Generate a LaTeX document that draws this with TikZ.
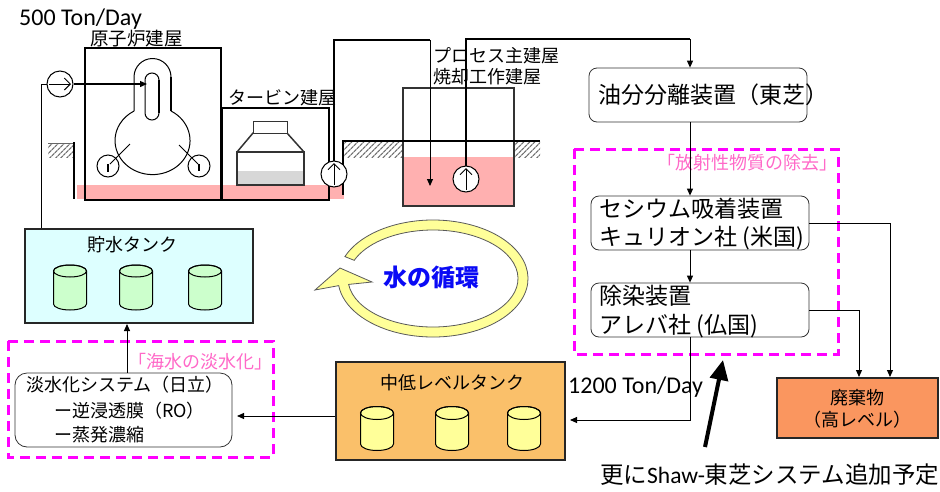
\documentclass[tikz,border=0pt]{standalone}
\usepackage{fontspec}
\setmainfont{Carlito}
\newfontfamily\jp{Noto Sans CJK JP}
\usetikzlibrary{arrows.meta,patterns.meta,calc}

\definecolor{floorpink}{RGB}{255,176,176}
\definecolor{storefill}{RGB}{221,255,255}
\definecolor{greencyl}{RGB}{204,255,204}
\definecolor{midfill}{RGB}{250,192,106}
\definecolor{yellowcyl}{RGB}{255,255,153}
\definecolor{wastefill}{RGB}{250,150,95}
\definecolor{zonemag}{RGB}{255,0,255}
\definecolor{zonelabel}{RGB}{255,105,200}
\definecolor{loopfill}{RGB}{255,255,153}
\definecolor{loopblue}{RGB}{10,10,245}
\definecolor{tankgrey}{RGB}{215,215,215}

% drum: x, top ellipse centre y, bottom ellipse centre y, x radius, y radius, fill
\newcommand\drum[6]{%
  \filldraw[fill=#6, draw=black, line width=1pt]
    ({#1-#4},#2) -- ({#1-#4},#3)
    arc[start angle=180, end angle=0, x radius=#4, y radius=#5]
    -- ({#1+#4},#2)
    arc[start angle=0, end angle=-180, x radius=#4, y radius=#5] -- cycle;
  \draw[line width=1pt] (#1,#2) ellipse[x radius=#4, y radius=#5];}

\begin{document}
\begin{tikzpicture}[x=1pt,y=-1pt,
  wall/.style={draw=black, line width=2pt},
  arr/.style={-{Triangle[length=7pt,width=6pt]}},
  pump/.style={circle, draw=black, line width=1pt, fill=white, minimum size=26pt, inner sep=0pt},
  procbox/.style={draw=black!80, line width=0.8pt, rounded corners=8pt, fill=white,
                  minimum width=218pt, minimum height=54pt, inner sep=0pt},
  tankbox/.style={draw=black!85, line width=2pt, inner sep=0pt},
  jpS/.style={font=\jp\fontsize{18}{18}\selectfont, inner sep=0pt},
  jpL/.style={font=\jp\fontsize{23}{23}\selectfont, inner sep=0pt, anchor=west},
  zonetext/.style={font=\jp\fontsize{18}{18}\selectfont, inner sep=0pt, text=zonelabel},
  zone/.style={draw=zonemag, line width=3pt, dash pattern=on 10pt off 6pt},
  hatch/.style={pattern={Lines[angle=45,distance=4pt,line width=1.3pt]}, pattern color=black!55}]

\useasboundingbox (0,0) rectangle (940,491);

% ---------- ground and floor water ----------
\fill[floorpink] (77,185) rectangle (344,199);
\fill[hatch] (48,143) rectangle (74,157);
\fill[hatch] (343,141) rectangle (403,157);
\fill[hatch] (514,141) rectangle (540,157);
\draw[line width=0.6pt, black!60] (48,143) -- (74,143);
\draw[wall] (74,142) -- (74,199);

% process / incinerator building
\fill[floorpink] (403,157) rectangle (514,206);
\draw[draw=black!80, line width=2pt] (403,88) rectangle (514,206);
\draw[wall] (343,141) -- (540,141);
\draw[wall] (343,140) -- (343,195);

% ---------- reactor building ----------
\draw[wall] (85,48) rectangle (221,200);
% vessel: stalk and bulb
\draw[line width=1pt] (134,111) -- (134,77) arc[start angle=180, end angle=360, radius=18.5] -- (171,111);
\draw[line width=2pt] (171,77) -- (171,111);
\draw[line width=1pt] (171,111) arc[start angle=299.5, end angle=600.5, x radius=37.5, y radius=34];
\draw[line width=1pt, rounded corners=7pt] (145,73) rectangle (159,120);
\draw[line width=2pt] (159,80) -- (159,113);
% recirculation loops
\draw[line width=1pt] (108,166) circle[radius=11];
\draw[line width=1pt] (199,166) circle[radius=11];
\draw[line width=1pt] (130,144) -- (110,164);
\draw[line width=2pt] (108,164) -- (108,172);
\draw[line width=1pt] (179,145) -- (198,164);
\draw[line width=2pt] (199,164) -- (199,171);

% ---------- turbine building ----------
\draw[wall] (222,108) rectangle (329,200);
\fill[tankgrey] (237,171) rectangle (304,185);
\draw[line width=1.5pt, black!80] (237,152) rectangle (304,185);
\draw[line width=1.5pt, black!80] (237,152) -- (253,133) -- (287,133) -- (304,152);
\draw[line width=1pt, black!80, fill=white] (253,121) rectangle (287,133);

% ---------- building titles ----------
\node[anchor=base west, inner sep=0pt, font=\fontsize{24}{24}\selectfont] (rateA) at (19,25) {500 Ton/Day};
\node[jpS, anchor=west, font=\jp\fontsize{18.5}{18.5}\selectfont] (rbname) at (90,39) {原子炉建屋};
\node[jpS, anchor=west] (tbname) at (228,98) {タービン建屋};
\node[jpS, anchor=west] (pbname) at (433,56) {プロセス主建屋};
\node[jpS, anchor=west] (ibname) at (433,77) {焼却工作建屋};

% ---------- pumps and pipes ----------
\node[pump] (p1) at (60,84) {};
\node[pump] (p2) at (334,174) {};
\node[pump] (p3) at (466,179) {};
\draw[-{Straight Barb[length=6pt,width=12pt]}, line width=1pt] ($(p1)+(-11,0)$) -- ($(p1)+(11,0)$);
\draw[-{Straight Barb[length=6pt,width=12pt]}, line width=1pt] ($(p2)+(0,11)$) -- ($(p2)+(0,-11)$);
\draw[-{Straight Barb[length=6pt,width=12pt]}, line width=1pt] ($(p3)+(0,11)$) -- ($(p3)+(0,-11)$);

\coordinate (core) at (147,84);
\coordinate (inlet) at (41,84);
\coordinate (t1) at (335,40);
\coordinate (drop) at (430,186);
\coordinate (t2) at (466,39);
\coordinate (axis) at (690,0);

% ---------- treatment train ----------
\node[procbox] (oil) at (698,95) {};
\node[procbox] (cs) at (700,223) {};
\node[procbox] (decon) at (700,310) {};
\node[jpL] (oilt) at (598,95) {油分分離装置（東芝）};
\node[jpL] (cst1) at (599,209) {セシウム吸着装置};
\node[jpL] (cst2) at (599,238) {キュリオン社 (米国)};
\node[jpL] (dct1) at (599,296) {除染装置};
\node[jpL] (dct2) at (599,326) {アレバ社 (仏国)};

\draw[zone] (574,149) rectangle (838,354);
\node[zonetext] (zoneA) at (747,163) {「放射性物質の除去」};

\node[tankbox, fill=wastefill, minimum width=161pt, minimum height=60pt] (waste) at (857.5,408) {};
\node[jpS] (wastet1) at (857,398) {廃棄物};
\node[jpS] (wastet2) at (857,420) {（高レベル）};

% ---------- tanks ----------
\node[tankbox, fill=storefill, minimum width=228pt, minimum height=94pt] (store) at (139,276) {};
\node[jpS] (storet) at (132,245) {貯水タンク};
\drum{70}{271}{304}{16.5}{6}{greencyl}
\drum{136}{271}{304}{16.5}{6}{greencyl}
\drum{205}{271}{304}{16.5}{6}{greencyl}

\node[tankbox, fill=midfill, minimum width=229pt, minimum height=98pt] (mid) at (450.5,411) {};
\node[jpS] (midt) at (452,383) {中低レベルタンク};
\drum{377}{413}{444}{16.5}{6.5}{yellowcyl}
\drum{452}{413}{444}{16.5}{6.5}{yellowcyl}
\drum{524}{413}{444}{16.5}{6.5}{yellowcyl}

% ---------- desalination ----------
\draw[zone] (8,341) rectangle (273,457);
\node[draw=black!80, line width=0.8pt, rounded corners=12pt, fill=white,
      minimum width=217pt, minimum height=74pt, inner sep=0pt] (desal) at (123.5,410) {};
\node[jpS, anchor=west] (desalt1) at (26,385) {淡水化システム（日立）};
\node[jpS, anchor=west] (desalt2) at (54,411) {ー逆浸透膜（RO）};
\node[jpS, anchor=west] (desalt3) at (54,435) {ー蒸発濃縮};
\node[zonetext] (zoneB) at (200,362) {「海水の淡水化」};

% ---------- connectors ----------
\draw[line width=1pt] (p1.west) -- (inlet) -- (inlet |- store.north);
\draw[line width=1.3pt, arr] (p1.east) -- (core);
\draw[line width=1.5pt] (p2.north) -- (p2.north |- t1) -- (t1 -| drop);
\draw[line width=1pt, arr] (t1 -| drop) -- (drop);
\draw[line width=2pt] (p3.north) -- (t2) -- (t2 -| axis);
\draw[line width=1pt, arr] (t2 -| axis) -- (oil.north -| axis);
\draw[line width=1pt, arr] (oil.south -| axis) -- (cs.north -| axis);
\draw[line width=1pt, arr] (cs.south -| axis) -- (decon.north -| axis);
\coordinate (wR) at (890,0);
\coordinate (wL) at (859,0);
\draw[line width=1pt, arr] (cs.east) -| (waste.north -| wR);
\draw[line width=1pt, arr] (decon.east) -| (waste.north -| wL);
\coordinate (midin) at (570,420);
\draw[line width=1pt, arr] (decon.south -| axis) |- (midin);
\node[anchor=base west, inner sep=0pt, font=\fontsize{24}{24}\selectfont] (rateB) at (568,393) {1200 Ton/Day};
\coordinate (desalin) at (237,416);
\draw[line width=1pt, arr] (mid.west |- desalin) -- (desalin);
\coordinate (up) at (127,0);
\draw[line width=1pt, arr] (desal.north -| up) -- (store.south -| up);

% ---------- water cycle loop ----------
\filldraw[fill=loopfill, draw=black!65, line width=0.8pt]
  ($(433,278.5)+(202:95 and 58.5)$)
  arc[start angle=202, end angle=533, x radius=95, y radius=58.5]
  -- (315,290) -- (340,268) -- (372,282)
  -- ($(433,278.5)+(533:85 and 48.5)$)
  arc[start angle=533, end angle=202, x radius=85, y radius=48.5] -- cycle;
\node[inner sep=0pt, text=loopblue, font=\jp\bfseries\fontsize{24}{24}\selectfont] (cycle) at (431,277) {水の循環};

% ---------- planned addition ----------
\coordinate (shawfrom) at (705,447);
\coordinate (shawto) at (723,360);
\draw[line width=4pt, -{Triangle[length=20pt,width=18pt]}] (shawfrom) -- (shawto);
\node[anchor=base west, inner sep=0pt, font=\fontsize{23.5}{23.5}\selectfont] (shaw) at (600,483)
  {{\jp 更に}Shaw-{\jp 東芝システム追加予定}};
\end{tikzpicture}
\end{document}
